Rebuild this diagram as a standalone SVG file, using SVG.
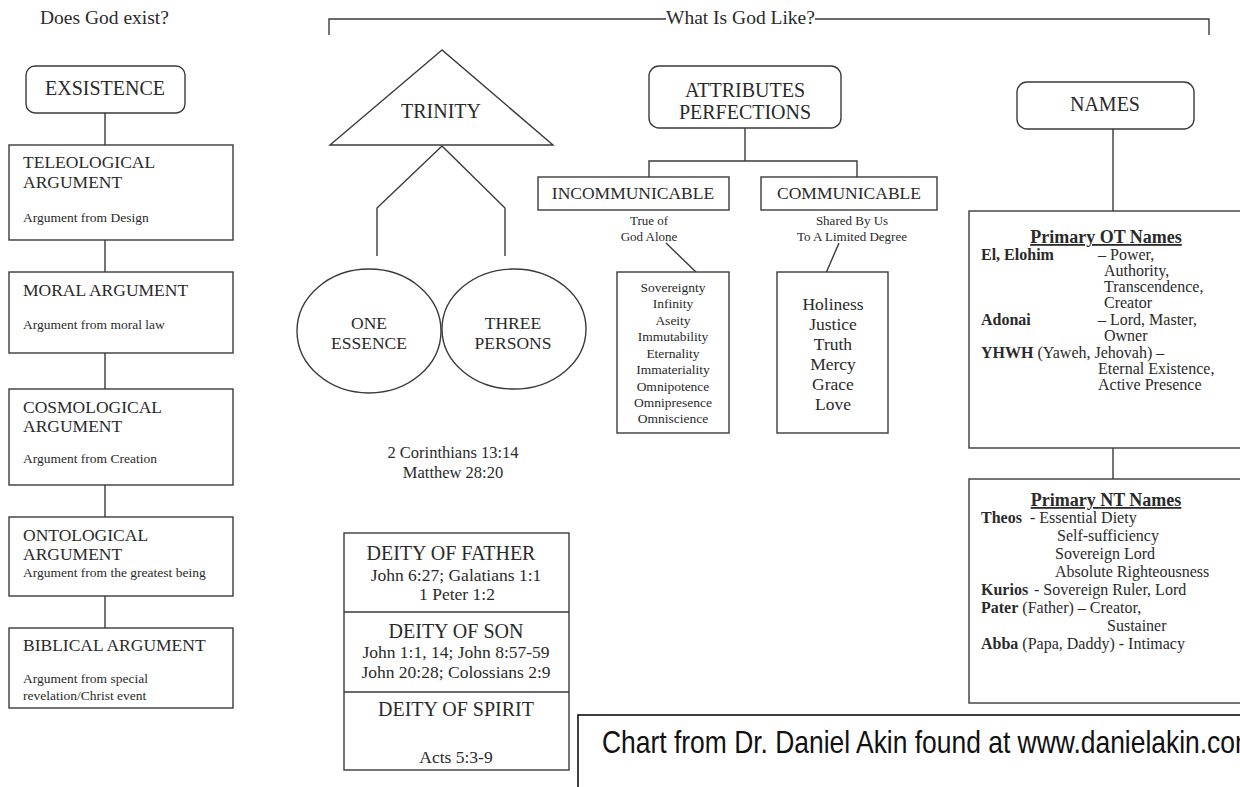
<svg xmlns="http://www.w3.org/2000/svg" width="1240" height="787" viewBox="0 0 1240 787">
<style>
text{font-family:"Liberation Serif","Times New Roman",serif;fill:#2a2a2a}
.box{fill:#fff;stroke:#3a3a3a;stroke-width:1.4}
.ln{fill:none;stroke:#3a3a3a;stroke-width:1.4}
.h{font-size:19.5px}
.big{font-size:20px}
.md{font-size:17.5px}
.sm{font-size:13.5px}
.xs{font-size:13px}
.nm{font-size:16px}
.c{text-anchor:middle}
.b{font-weight:bold}
.ul{text-decoration:underline;font-weight:bold;font-size:18px}
.foot{font-family:"Liberation Sans",Arial,sans-serif;font-size:32px;fill:#111}
</style>
<rect width="1240" height="787" fill="#fff"/>

<g id="connectors">
<path class="ln" d="M105 113V145M105 240V272M105 353V389M105 485V517M105 596V628"/>
<path class="ln" d="M329 35V19H666M815 19H1209V35"/>
<path class="ln" d="M442 146L377 208V256M442 146L505 208V256"/>
<path class="ln" d="M745 128V161M649 177V161H857V177"/>
<path class="ln" d="M666 243L696 272M839 243L826 273"/>
<path class="ln" d="M1113 129V211M1113 448V479"/>
</g>

<g id="title-left"><text class="h" x="40" y="24">Does God exist?</text></g>
<g id="title-top"><text class="h" x="666" y="24">What Is God Like?</text></g>

<g id="existence">
<rect class="box" x="26" y="66" width="159" height="47" rx="9"/>
<text class="big c" x="105" y="95">EXSISTENCE</text>
</g>
<g id="teleological">
<rect class="box" x="9" y="145" width="224" height="95"/>
<text class="md" x="23" y="168">TELEOLOGICAL</text>
<text class="md" x="23" y="188">ARGUMENT</text>
<text class="sm" x="23" y="222">Argument from Design</text>
</g>
<g id="moral">
<rect class="box" x="9" y="272" width="224" height="81"/>
<text class="md" x="23" y="296">MORAL ARGUMENT</text>
<text class="sm" x="23" y="329">Argument from moral law</text>
</g>
<g id="cosmological">
<rect class="box" x="9" y="389" width="224" height="96"/>
<text class="md" x="23" y="413">COSMOLOGICAL</text>
<text class="md" x="23" y="432">ARGUMENT</text>
<text class="sm" x="23" y="463">Argument from Creation</text>
</g>
<g id="ontological">
<rect class="box" x="9" y="517" width="224" height="79"/>
<text class="md" x="23" y="541">ONTOLOGICAL</text>
<text class="md" x="23" y="560">ARGUMENT</text>
<text class="sm" x="23" y="577">Argument from the greatest being</text>
</g>
<g id="biblical">
<rect class="box" x="9" y="628" width="224" height="80"/>
<text class="md" x="23" y="651">BIBLICAL ARGUMENT</text>
<text class="sm" x="23" y="683">Argument from special</text>
<text class="sm" x="23" y="700">revelation/Christ event</text>
</g>

<g id="trinity">
<polygon class="box" points="442,50 330,145 553,145"/>
<text class="big c" x="441" y="118">TRINITY</text>
</g>
<g id="one-essence">
<ellipse class="box" cx="369" cy="331" rx="72" ry="62"/>
<text class="md c" x="369" y="329">ONE</text>
<text class="md c" x="369" y="349">ESSENCE</text>
</g>
<g id="three-persons">
<ellipse class="box" cx="514" cy="329" rx="72" ry="60"/>
<text class="md c" x="513" y="329">THREE</text>
<text class="md c" x="513" y="349">PERSONS</text>
</g>
<g id="verses">
<text class="nm c" x="453" y="458" style="font-size:16.5px">2 Corinthians 13:14</text>
<text class="nm c" x="453" y="478" style="font-size:16.5px">Matthew 28:20</text>
</g>
<g id="deity">
<rect class="box" x="344" y="533" width="225" height="237"/>
<path class="ln" d="M344 612H569M344 692H569"/>
<text class="big c" x="451" y="560">DEITY OF FATHER</text>
<text class="md c" x="456" y="581">John 6:27; Galatians 1:1</text>
<text class="md c" x="457" y="600">1 Peter 1:2</text>
<text class="big c" x="456" y="638">DEITY OF SON</text>
<text class="md c" x="456" y="658">John 1:1, 14; John 8:57-59</text>
<text class="md c" x="456" y="678">John 20:28; Colossians 2:9</text>
<text class="big c" x="456" y="716">DEITY OF SPIRIT</text>
<text class="md c" x="456" y="763">Acts 5:3-9</text>
</g>

<g id="attributes">
<rect class="box" x="649" y="66" width="192" height="62" rx="10"/>
<text class="big c" x="745" y="97">ATTRIBUTES</text>
<text class="big c" x="745" y="119">PERFECTIONS</text>
</g>
<g id="incommunicable">
<rect class="box" x="538" y="177" width="191" height="33"/>
<text class="md c" x="633" y="199">INCOMMUNICABLE</text>
<text class="xs c" x="649" y="225">True of</text>
<text class="xs c" x="649" y="241">God Alone</text>
</g>
<g id="communicable">
<rect class="box" x="761" y="177" width="176" height="33"/>
<text class="md c" x="849" y="199">COMMUNICABLE</text>
<text class="xs c" x="852" y="225">Shared By Us</text>
<text class="xs c" x="852" y="241">To A Limited Degree</text>
</g>
<g id="incommunicable-list">
<rect class="box" x="617" y="272" width="112" height="161"/>
<text class="sm c" x="673" y="292">Sovereignty</text>
<text class="sm c" x="673" y="308">Infinity</text>
<text class="sm c" x="673" y="325">Aseity</text>
<text class="sm c" x="673" y="341">Immutability</text>
<text class="sm c" x="673" y="358">Eternality</text>
<text class="sm c" x="673" y="374">Immateriality</text>
<text class="sm c" x="673" y="391">Omnipotence</text>
<text class="sm c" x="673" y="407">Omnipresence</text>
<text class="sm c" x="673" y="423">Omniscience</text>
</g>
<g id="communicable-list">
<rect class="box" x="777" y="272" width="111" height="161"/>
<text class="md c" x="833" y="310">Holiness</text>
<text class="md c" x="833" y="330">Justice</text>
<text class="md c" x="833" y="350">Truth</text>
<text class="md c" x="833" y="370">Mercy</text>
<text class="md c" x="833" y="390">Grace</text>
<text class="md c" x="833" y="410">Love</text>
</g>

<g id="names">
<rect class="box" x="1017" y="82" width="177" height="47" rx="10"/>
<text class="big c" x="1105" y="111">NAMES</text>
</g>
<g id="ot-names">
<rect class="box" x="969" y="211" width="290" height="237"/>
<text class="ul c" x="1106" y="243">Primary OT Names</text>
<text class="nm b" x="981" y="260">El, Elohim</text>
<text class="nm" x="1098" y="260">– Power,</text>
<text class="nm" x="1104" y="276">Authority,</text>
<text class="nm" x="1104" y="292">Transcendence,</text>
<text class="nm" x="1104" y="308">Creator</text>
<text class="nm b" x="981" y="325">Adonai</text>
<text class="nm" x="1098" y="325">– Lord, Master,</text>
<text class="nm" x="1104" y="341">Owner</text>
<text class="nm" x="981" y="358"><tspan class="b">YHWH</tspan> (Yaweh, Jehovah) –</text>
<text class="nm" x="1098" y="374">Eternal Existence,</text>
<text class="nm" x="1098" y="390">Active Presence</text>
</g>
<g id="nt-names">
<rect class="box" x="969" y="479" width="290" height="224"/>
<text class="ul c" x="1106" y="506">Primary NT Names</text>
<text class="nm b" x="981" y="523">Theos</text>
<text class="nm" x="1030" y="523">- Essential Diety</text>
<text class="nm" x="1057" y="541">Self-sufficiency</text>
<text class="nm" x="1055" y="559">Sovereign Lord</text>
<text class="nm" x="1055" y="577">Absolute Righteousness</text>
<text class="nm b" x="981" y="595">Kurios</text>
<text class="nm" x="1034" y="595">- Sovereign Ruler, Lord</text>
<text class="nm" x="981" y="613"><tspan class="b">Pater</tspan> (Father) – Creator,</text>
<text class="nm" x="1107" y="631">Sustainer</text>
<text class="nm" x="981" y="649"><tspan class="b">Abba</tspan> (Papa, Daddy) - Intimacy</text>
</g>

<g id="credit">
<rect x="578" y="715" width="700" height="90" fill="#fff" stroke="#111" stroke-width="1.6"/>
<text class="foot" x="602" y="753" textLength="655" lengthAdjust="spacingAndGlyphs">Chart from Dr. Daniel Akin found at www.danielakin.com</text>
</g>
</svg>
